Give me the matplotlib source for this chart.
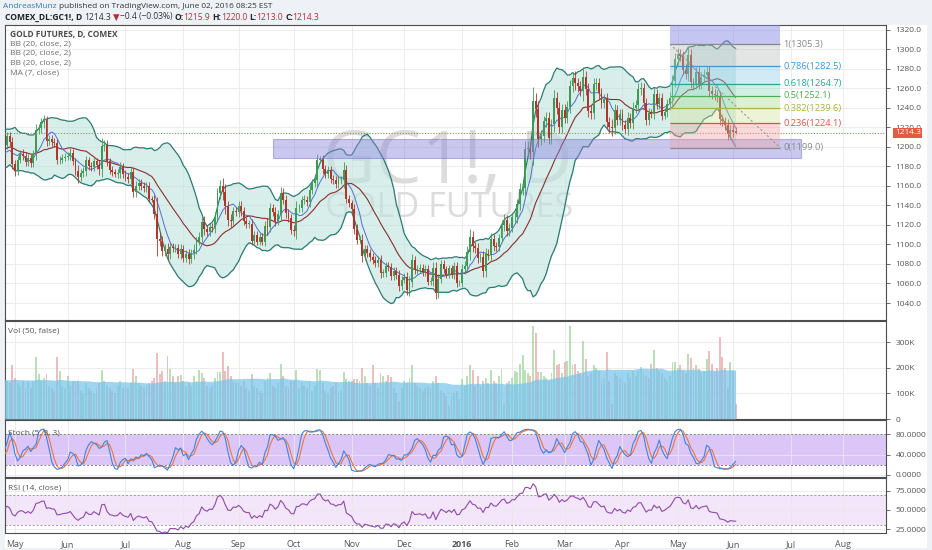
import numpy as np
import pandas as pd
import matplotlib
matplotlib.use("Agg")
import matplotlib.pyplot as plt
from matplotlib.patches import Rectangle

FONT = ["Open Sans", "DejaVu Sans"]
plt.rcParams["font.family"] = FONT

# ---- daily closes, COMEX GC1! ----
close_2015_03 = [1208, 1203, 1200, 1198, 1167, 1167, 1161, 1151, 1152, 1152, 1155, 1149, 1152, 1168, 1184, 1189, 1192, 1195, 1204, 1199, 1185, 1183]
close_2015_04 = [1201, 1200, 1219, 1210, 1203, 1193, 1206, 1198, 1192, 1200, 1202, 1203, 1194, 1202, 1187, 1194, 1175, 1202, 1211, 1205, 1182]
close_2015_05 = [1175, 1187, 1193, 1191, 1184, 1189, 1183, 1193, 1217, 1219, 1225, 1227, 1206, 1208, 1205, 1204, 1186, 1187, 1189, 1190]
close_2015_06 = [1191, 1194, 1185, 1175, 1169, 1173, 1175, 1186, 1180, 1179, 1185, 1181, 1177, 1201, 1202, 1185, 1176, 1174, 1172, 1173, 1179, 1172]
close_2015_07 = [1169, 1167, 1174, 1154, 1160, 1163, 1160, 1158, 1160, 1147, 1146, 1131, 1106, 1104, 1093, 1095, 1090, 1097, 1096, 1096, 1090, 1095]
close_2015_08 = [1086, 1090, 1085, 1091, 1094, 1104, 1108, 1123, 1116, 1113, 1118, 1117, 1128, 1153, 1160, 1154, 1139, 1125, 1124, 1134, 1133]
close_2015_09 = [1139, 1134, 1124, 1121, 1121, 1104, 1110, 1103, 1108, 1103, 1119, 1118, 1137, 1133, 1124, 1131, 1153, 1146, 1132, 1127, 1115]
close_2015_10 = [1114, 1137, 1137, 1146, 1146, 1143, 1156, 1163, 1166, 1187, 1187, 1177, 1172, 1176, 1167, 1166, 1162, 1166, 1166, 1176, 1147, 1142]
close_2015_11 = [1136, 1116, 1105, 1105, 1088, 1095, 1091, 1087, 1084, 1081, 1084, 1071, 1071, 1078, 1077, 1068, 1073, 1069, 1057, 1064]
close_2015_12 = [1067, 1053, 1062, 1084, 1074, 1075, 1076, 1072, 1075, 1062, 1063, 1076, 1050, 1065, 1080, 1075, 1069, 1076, 1069, 1078, 1060, 1061]
close_2016_01 = [1075, 1078, 1092, 1108, 1098, 1096, 1086, 1087, 1073, 1090, 1089, 1106, 1098, 1097, 1107, 1120, 1125, 1114, 1117]
close_2016_02 = [1128, 1128, 1141, 1157, 1158, 1198, 1198, 1195, 1247, 1239, 1208, 1211, 1226, 1230, 1209, 1223, 1250, 1240, 1220, 1238]
close_2016_03 = [1230, 1241, 1262, 1271, 1265, 1262, 1257, 1272, 1259, 1237, 1235, 1264, 1265, 1255, 1245, 1249, 1225, 1220, 1219, 1238, 1227, 1234]
close_2016_04 = [1222, 1218, 1230, 1224, 1240, 1243, 1259, 1260, 1245, 1227, 1235, 1234, 1254, 1244, 1250, 1232, 1236, 1244, 1250, 1267, 1290]
close_2016_05 = [1295, 1293, 1279, 1275, 1294, 1266, 1264, 1277, 1264, 1272, 1274, 1277, 1257, 1254, 1253, 1251, 1228, 1226, 1222, 1213, 1217]
close_2016_06 = [1214.7, 1214.3]

# wick length beyond the body, per day
wick_2015_03 = [5, 5, 4, 4, 8, 5, 6, 6, 4, 4, 4, 5, 12, 8, 6, 5, 4, 4, 6, 5, 4, 4]
wick_2015_04 = [6, 4, 6, 5, 4, 5, 4, 4, 5, 4, 4, 4, 4, 4, 5, 4, 6, 7, 4, 4, 5]
wick_2015_05 = [5, 4, 4, 5, 4, 4, 4, 4, 6, 4, 5, 6, 5, 4, 4, 4, 4, 4, 4, 4]
wick_2015_06 = [4, 5, 4, 4, 6, 4, 4, 5, 4, 4, 4, 4, 6, 8, 5, 5, 4, 4, 3, 4, 5, 4]
wick_2015_07 = [4, 4, 5, 5, 5, 4, 4, 4, 4, 4, 3, 5, 18, 6, 5, 5, 6, 5, 4, 4, 4, 5]
wick_2015_08 = [4, 4, 5, 4, 6, 4, 5, 6, 6, 4, 4, 4, 5, 5, 6, 8, 8, 6, 6, 4, 4]
wick_2015_09 = [5, 5, 4, 4, 4, 5, 4, 4, 4, 4, 5, 8, 5, 4, 5, 4, 6, 5, 5, 4, 4]
wick_2015_10 = [5, 8, 4, 4, 5, 4, 5, 4, 4, 6, 4, 5, 4, 4, 4, 4, 4, 4, 4, 8, 5, 4]
wick_2015_11 = [4, 5, 5, 4, 6, 4, 4, 4, 4, 4, 4, 5, 4, 4, 4, 4, 4, 4, 5, 4]
wick_2015_12 = [4, 5, 6, 6, 4, 4, 4, 4, 4, 4, 4, 6, 6, 5, 4, 4, 3, 3, 3, 4, 4, 3]
wick_2016_01 = [5, 5, 6, 8, 6, 5, 5, 4, 6, 6, 5, 6, 5, 4, 4, 5, 6, 5, 5]
wick_2016_02 = [4, 5, 6, 6, 6, 8, 8, 7, 14, 8, 8, 6, 6, 6, 6, 6, 8, 6, 6, 6]
wick_2016_03 = [6, 6, 6, 6, 7, 6, 5, 10, 6, 6, 6, 7, 6, 6, 5, 5, 6, 6, 8, 6, 5, 5]
wick_2016_04 = [5, 5, 6, 5, 6, 5, 6, 6, 5, 5, 5, 4, 6, 5, 5, 5, 4, 5, 6, 7, 6]
wick_2016_05 = [6, 5, 5, 6, 8, 6, 5, 5, 5, 5, 6, 5, 6, 5, 5, 5, 6, 5, 5, 6, 5]
wick_2016_06 = [5, 0]

# daily volume, thousands of contracts
vol_2015_03 = [150, 140, 135, 160, 230, 160, 150, 170, 160, 140, 130, 150, 210, 200, 180, 160, 140, 140, 170, 150, 130, 130]
vol_2015_04 = [170, 150, 160, 140, 130, 150, 140, 130, 120, 150, 140, 130, 120, 140, 160, 150, 180, 211, 150, 140, 213]
vol_2015_05 = [160, 140, 130, 150, 120, 150, 120, 150, 244, 177, 150, 160, 177, 130, 120, 110, 244, 190, 130, 120]
vol_2015_06 = [170, 130, 150, 150, 150, 110, 100, 140, 120, 110, 100, 120, 140, 191, 150, 130, 120, 110, 100, 130, 147, 120]
vol_2015_07 = [130, 120, 140, 197, 170, 140, 130, 120, 130, 140, 150, 160, 260, 177, 187, 150, 248, 197, 170, 140, 170, 173]
vol_2015_08 = [150, 130, 140, 130, 170, 150, 191, 180, 160, 130, 120, 130, 160, 184, 184, 264, 190, 207, 170, 150, 140]
vol_2015_09 = [140, 130, 150, 120, 110, 177, 130, 120, 110, 100, 150, 160, 180, 130, 120, 140, 217, 170, 130, 120, 150]
vol_2015_10 = [150, 191, 120, 140, 130, 120, 150, 110, 130, 197, 191, 140, 110, 100, 120, 130, 140, 100, 110, 184, 155, 150]
vol_2015_11 = [150, 155, 155, 150, 200, 170, 140, 130, 211, 140, 120, 181, 170, 150, 173, 164, 120, 100, 70, 120]
vol_2015_12 = [150, 140, 160, 211, 140, 130, 120, 110, 120, 130, 120, 150, 170, 140, 110, 100, 90, 55, 90, 100, 110, 80]
vol_2016_01 = [157, 130, 170, 213, 191, 130, 170, 130, 150, 160, 140, 191, 150, 140, 170, 197, 60, 140, 150]
vol_2016_02 = [160, 187, 184, 217, 251, 191, 180, 170, 364, 337, 184, 184, 170, 160, 150, 180, 271, 211, 217, 180]
vol_2016_03 = [224, 227, 364, 211, 217, 190, 180, 304, 237, 170, 180, 211, 200, 190, 150, 160, 264, 150, 60, 180, 170, 160]
vol_2016_04 = [150, 140, 180, 160, 190, 170, 190, 204, 180, 170, 160, 217, 271, 200, 190, 180, 160, 150, 170, 225, 222]
vol_2016_05 = [200, 211, 190, 180, 256, 240, 200, 211, 197, 180, 190, 237, 267, 217, 190, 200, 320, 244, 200, 120, 224]
vol_2016_06 = [190, 57]

last_open, last_high, last_low = 1215.9, 1220.0, 1213.0
holidays = ["2015-04-03", "2015-05-25", "2015-07-03", "2015-09-07", "2015-11-26", "2015-12-25",
            "2016-01-01", "2016-01-18", "2016-02-15", "2016-03-25", "2016-05-30", "2016-07-04"]

fib_prices = [1305.3, 1282.5, 1264.7, 1252.1, 1239.6, 1224.1, 1199.0]
fib_ratios = ["1", "0.786", "0.618", "0.5", "0.382", "0.236", "0"]
zone_low, zone_high = 1189.0, 1208.0

closes = (close_2015_03 + close_2015_04 + close_2015_05 + close_2015_06 + close_2015_07 + close_2015_08
          + close_2015_09 + close_2015_10 + close_2015_11 + close_2015_12 + close_2016_01 + close_2016_02
          + close_2016_03 + close_2016_04 + close_2016_05 + close_2016_06)
wicks = (wick_2015_03 + wick_2015_04 + wick_2015_05 + wick_2015_06 + wick_2015_07 + wick_2015_08
         + wick_2015_09 + wick_2015_10 + wick_2015_11 + wick_2015_12 + wick_2016_01 + wick_2016_02
         + wick_2016_03 + wick_2016_04 + wick_2016_05 + wick_2016_06)
volumes = (vol_2015_03 + vol_2015_04 + vol_2015_05 + vol_2015_06 + vol_2015_07 + vol_2015_08
           + vol_2015_09 + vol_2015_10 + vol_2015_11 + vol_2015_12 + vol_2016_01 + vol_2016_02
           + vol_2016_03 + vol_2016_04 + vol_2016_05 + vol_2016_06)

cal = pd.bdate_range("2015-03-02", "2016-08-31")
cal = cal[~cal.isin(pd.to_datetime(holidays))]
n = len(closes)
x = np.arange(n)

c = np.array(closes, float)
o = np.r_[c[0], c[:-1]]
o[-1] = last_open
w = np.array(wicks, float)
hi = np.maximum(o, c) + w
lo = np.minimum(o, c) - w
hi[-1], lo[-1] = last_high, last_low
v = np.array(volumes, float)

# indicators
s = pd.Series(c)
basis = s.rolling(20).mean()
dev = s.rolling(20).std(ddof=0)
upper, lower = basis + 2 * dev, basis - 2 * dev
ma7 = s.rolling(7).mean()
hh = pd.Series(hi).rolling(5).max()
ll = pd.Series(lo).rolling(5).min()
k = (100 * (s - ll) / (hh - ll)).rolling(3).mean()
d = k.rolling(3).mean()
delta = s.diff()
gain = delta.clip(lower=0).ewm(alpha=1 / 14, adjust=False).mean()
loss = (-delta.clip(upper=0)).ewm(alpha=1 / 14, adjust=False).mean()
rsi = 100 - 100 / (1 + gain / loss)
vma = pd.Series(v).rolling(50, min_periods=1).mean()

# ---- figure ----
W, H = 932, 550
fig = plt.figure(figsize=(W / 100, H / 100), dpi=100, facecolor="#eef1f5")
renderer = fig.canvas.get_renderer()


def px_rect(x0, y0, x1, y1):
    return [x0 / W, 1 - y1 / H, (x1 - x0) / W, (y1 - y0) / H]


fig.add_artist(Rectangle((5 / W, 1 - 548 / H), 922 / W, 523 / H, transform=fig.transFigure,
                         facecolor="white", edgecolor="none", zorder=-1))

ax = fig.add_axes(px_rect(5, 25, 886, 320))
axv = fig.add_axes(px_rect(5, 321, 886, 419), sharex=ax)
axs = fig.add_axes(px_rect(5, 420, 886, 477), sharex=ax)
axr = fig.add_axes(px_rect(5, 478, 886, 533), sharex=ax)
panels = [ax, axv, axs, axr]

start = cal.get_loc(pd.Timestamp("2015-05-01"))
ax.set_xlim(start - 3.8, start + 331.2)

months = pd.period_range("2015-05", "2016-08", freq="M")
tick_pos = [int(np.searchsorted(cal, m.start_time)) for m in months]
tick_lab = [str(m.year) if m.month == 1 else m.strftime("%b") for m in months]

for a in panels:
    a.set_facecolor("none")
    a.yaxis.tick_right()
    a.set_xticks(tick_pos)
    a.grid(True, color="#e9e9e9", lw=0.6)
    a.set_axisbelow(True)
    a.tick_params(axis="y", length=3, pad=4, labelsize=6, colors="#555555", width=0.6)
    a.tick_params(axis="x", length=0, labelsize=6.4, colors="#555555", pad=5)
    for sp in a.spines.values():
        sp.set_color("#4d4d4d")
        sp.set_linewidth(0.8)
    if a is not axr:
        plt.setp(a.get_xticklabels(), visible=False)
axr.set_xticklabels(tick_lab)
for lab in axr.get_xticklabels():
    if lab.get_text() == "2016":
        lab.set_fontweight("bold")

# ---- main price panel ----
ax.set_ylim(1022.6, 1324.8)
yt = np.arange(1040, 1321, 20)
ax.set_yticks(yt)
ax.set_yticklabels([f"{t:.1f}" for t in yt])


def fit_size(txt, width_px, weight="normal", base=20):
    t = fig.text(0, 0, txt, fontsize=base, weight=weight)
    wpx = t.get_window_extent(renderer).width
    t.remove()
    return base * width_px / wpx


def ax_xy(px, py):
    return (px - 5) / 881, (320 - py) / 295


wm1 = fit_size("GC1!, D", 250)
wm2 = fit_size("GOLD FUTURES", 248)
ax.text(*ax_xy(448, 183), "GC1!, D", transform=ax.transAxes, fontsize=wm1, color="#dcdcdc",
        ha="center", va="baseline", zorder=0.6)
ax.text(*ax_xy(449, 217), "GOLD FUTURES", transform=ax.transAxes, fontsize=wm2, color="#dcdcdc",
        ha="center", va="baseline", zorder=0.6)

ax.fill_between(x, lower, upper, color="#bfe3df", alpha=0.6, lw=0, zorder=2)
ax.plot(x, upper, color="#2b7a72", lw=0.9, zorder=3)
ax.plot(x, lower, color="#2b7a72", lw=0.9, zorder=3)
ax.plot(x, basis, color="#8b2e2e", lw=0.8, zorder=3)
ax.plot(x, ma7, color="#4f6fd6", lw=0.7, zorder=3)

up = c >= o
col = np.where(up, "#3f9a55", "#b0352b")
ax.vlines(x, lo, hi, colors=col, lw=0.6, zorder=5)
ax.bar(x, np.maximum(np.abs(c - o), 0.5), bottom=np.minimum(o, c), width=0.72, color=col,
       lw=0, zorder=5)

# support zone and fibonacci retracement
zs = cal.get_loc(pd.Timestamp("2015-09-21"))
ze = cal.get_loc(pd.Timestamp("2016-07-08"))
ax.add_patch(Rectangle((zs, zone_low), ze - zs, zone_high - zone_low, facecolor="#8b85dc",
                       alpha=0.45, edgecolor="#6a64c8", lw=0.8, zorder=7))

fs = cal.get_loc(pd.Timestamp("2016-04-27"))
fe = cal.get_loc(pd.Timestamp("2016-06-27"))
fib_line = ["#8a8a8a", "#3d97d3", "#25a88f", "#4caf50", "#a8b43a", "#d9534f", "#8a8a8a"]
fib_fill = ["#b9bcbc", "#8fcbe8", "#8fdcc0", "#a8dd95", "#d5e39a", "#eda3a3"]
ax.add_patch(Rectangle((fs, fib_prices[0]), fe - fs, 40, facecolor="#8c8ce6", alpha=0.5,
                       edgecolor="none", zorder=7))
for i in range(6):
    ax.add_patch(Rectangle((fs, fib_prices[i + 1]), fe - fs, fib_prices[i] - fib_prices[i + 1],
                           facecolor=fib_fill[i], alpha=0.4, edgecolor="none", zorder=7))
for r, p, lc in zip(fib_ratios, fib_prices, fib_line):
    ax.hlines(p, fs, fe, colors=lc, lw=0.9, zorder=8)
    ax.text(fe + 1.2, p, f"{r}({p:.1f})", color=lc, fontsize=6.7, va="center", ha="left", zorder=8)
ax.plot([fs, fe], [fib_prices[0], fib_prices[-1]], color="#9a9a9a", lw=0.8, ls=(0, (2, 2)), zorder=8)

ax.axhline(c[-1], color="#e8665c", lw=0.8, ls=(0, (1, 1.5)), zorder=6)
ax.text(1.01, c[-1], f"{c[-1]:.1f}", transform=ax.get_yaxis_transform(), fontsize=6,
        color="white", ha="left", va="center", zorder=10, clip_on=False,
        bbox=dict(boxstyle="square,pad=0.2", facecolor="#e35a43", edgecolor="none"))

# ---- volume panel ----
axv.set_ylim(0, 384)
axv.set_yticks([0, 100, 200, 300])
axv.set_yticklabels(["0", "100K", "200K", "300K"])
vcol = np.where(up, "#a3d6a3", "#e8a8a8")
axv.bar(x, v, width=0.72, color=vcol, alpha=0.75, lw=0, zorder=2)
axv.fill_between(x, 0, vma, color="#78c5ec", alpha=0.72, lw=0, zorder=3)

# ---- stochastic panel ----
axs.set_ylim(-4, 108)
axs.set_yticks([0, 40, 80])
axs.set_yticklabels(["0.0000", "40.0000", "80.0000"])
axs.axhspan(20, 80, color="#dcc6f7", lw=0, zorder=0.5)
for lvl in (20, 80):
    axs.axhline(lvl, color="#808080", lw=0.7, ls=(0, (2, 2)), zorder=1)
axs.plot(x, d, color="#f0743b", lw=0.8, zorder=3)
axs.plot(x, k, color="#3d85e0", lw=0.8, zorder=4)

# ---- RSI panel ----
axr.set_ylim(19.9, 91.7)
axr.set_yticks([25, 50, 75])
axr.set_yticklabels(["25.0000", "50.0000", "75.0000"])
axr.axhspan(30, 70, color="#f3e6fb", lw=0, zorder=0.5)
for lvl in (30, 70):
    axr.axhline(lvl, color="#9a9a9a", lw=0.7, ls=(0, (2, 2)), zorder=1)
axr.plot(x, rsi, color="#8e4aa8", lw=0.8, zorder=3)

# ---- texts ----
def ftext(px, py, txt, **kw):
    return fig.text(px / W, 1 - py / H, txt, va="center", ha="left", **kw)


lsz = fit_size("BB (20, close, 2)", 61)
ftext(10, 34, "GOLD FUTURES, D, COMEX", fontsize=lsz, color="#4a4a4a", weight="bold")
for yy in (44, 53.5, 63):
    ftext(10, yy, "BB (20, close, 2)", fontsize=lsz, color="#6d6d6d")
ftext(10, 73, "MA (7, close)", fontsize=lsz, color="#6d6d6d")
ftext(8, 331, "Vol (50, false)", fontsize=lsz, color="#555555")
ftext(8, 433, "Stoch (5, 3, 3)", fontsize=lsz, color="#555555")
ftext(8, 488, "RSI (14, close)", fontsize=lsz, color="#555555")

h1 = "AndreasMunz published on TradingView.com, June 02, 2016 08:25 EST"
hsz = fit_size(h1, 270)


def run(px, py, parts, size):
    for txt, color, weight, gap in parts:
        t = ftext(px, py, txt, fontsize=size, color=color, weight=weight)
        px += t.get_window_extent(renderer).width + gap


sp = hsz * 0.38
run(3, 6.5, [("AndreasMunz", "#2a7ab8", "normal", sp),
             ("published on TradingView.com, June 02, 2016 08:25 EST", "#333333", "normal", 0)], hsz)
red = "#b0303a"
hsz2 = hsz * 1.03
run(5, 17, [("COMEX_DL:GC1!, D", "#222222", "bold", sp),
            (f"{c[-1]:.1f}", "#333333", "normal", sp * 0.6),
            ("\u25bc", red, "normal", sp * 0.4),
            ("\u22120.4 (\u22120.03%)", "#333333", "normal", sp),
            ("O:", "#222222", "bold", -0.5), (f"{last_open:.1f}", red, "normal", sp),
            ("H:", "#222222", "bold", -0.5), (f"{last_high:.1f}", red, "normal", sp),
            ("L:", "#222222", "bold", -0.5), (f"{last_low:.1f}", red, "normal", sp),
            ("C:", "#222222", "bold", -0.5), (f"{c[-1]:.1f}", red, "normal", 0)], hsz2)

fig.savefig("out.png", dpi=100, facecolor=fig.get_facecolor())
